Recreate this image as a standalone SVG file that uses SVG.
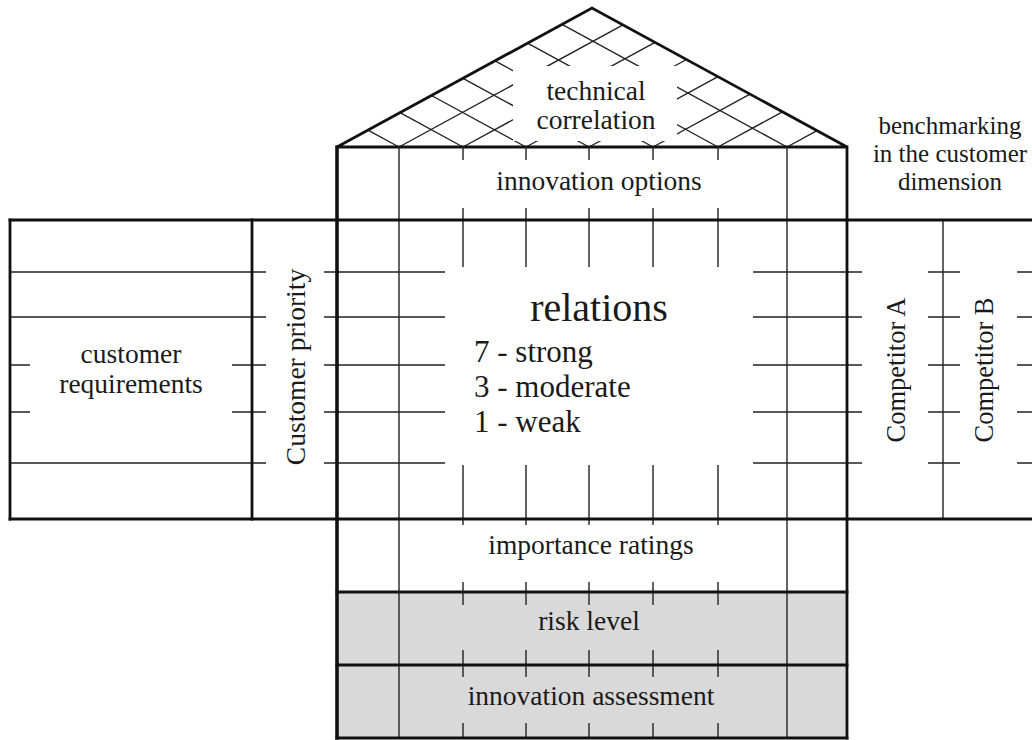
<svg xmlns="http://www.w3.org/2000/svg" width="1032" height="740" viewBox="0 0 1032 740">
<style>
.thick{stroke:#111;stroke-width:2.8;fill:none;stroke-linecap:square}
.thin{stroke:#222;stroke-width:1.4;fill:none}
.t{font-family:'Liberation Serif','Tinos','DejaVu Serif',serif;fill:#1a1a1a;font-size:27.5px;text-anchor:middle}
.gray{fill:#d9d9d9}
</style>
<rect width="1032" height="740" fill="#fff"/>
<g id="roof">
  <g class="thin">
    <line x1="399" y1="147" x2="623" y2="24.9"/>
    <line x1="463" y1="147" x2="655" y2="42.3"/>
    <line x1="526" y1="147" x2="686.5" y2="59.5"/>
    <line x1="589" y1="147" x2="718" y2="76.7"/>
    <line x1="653" y1="147" x2="750" y2="94.1"/>
    <line x1="718" y1="147" x2="782.5" y2="111.8"/>
    <line x1="787" y1="147" x2="817" y2="130.6"/>
    <line x1="399" y1="147" x2="368" y2="130.1"/>
    <line x1="463" y1="147" x2="400" y2="112.7"/>
    <line x1="526" y1="147" x2="431.5" y2="95.5"/>
    <line x1="589" y1="147" x2="463" y2="78.3"/>
    <line x1="653" y1="147" x2="495" y2="60.9"/>
    <line x1="718" y1="147" x2="527.5" y2="43.2"/>
    <line x1="787" y1="147" x2="562" y2="24.4"/>
  </g>
  <rect x="513" y="66" width="164" height="75" fill="#fff"/>
  <polygon class="thick" points="337,147 592,8 847,147"/>
  <text class="t" x="596" y="100">technical</text>
  <text class="t" x="596" y="129">correlation</text>
</g>
<g id="gray-fill">
  <rect class="gray" x="337" y="592" width="510" height="146"/>
</g>
<g id="grid">
  <g class="thin">
    <line x1="399" y1="147" x2="399" y2="738"/>
    <line x1="787" y1="147" x2="787" y2="738"/>
    <path d="M463 147V160M463 208V267M463 465V525M463 582V605M463 650V677M463 723V738
             M526 147V160M526 208V267M526 465V525M526 582V605M526 650V677M526 723V738
             M589 147V160M589 208V267M589 465V525M589 582V605M589 650V677M589 723V738
             M653 147V160M653 208V267M653 465V525M653 582V605M653 650V677M653 723V738
             M718 147V160M718 208V267M718 465V525M718 582V605M718 650V677M718 723V738"/>
    <path d="M10 272H266M10 317H266M10 463H266M10 365H30M232 365H266M10 412H30M232 412H266"/>
    <path d="M324 272H445M324 317H445M324 365H445M324 412H445M324 463H445"/>
    <path d="M753 272H862M753 317H862M753 365H862M753 412H862M753 463H862"/>
    <path d="M928 272H960M928 317H960M928 365H960M928 412H960M928 463H960"/>
    <path d="M1017 272H1032M1017 317H1032M1017 365H1032M1017 412H1032M1017 463H1032"/>
    <line x1="943" y1="220" x2="943" y2="519"/>
  </g>
  <g class="thick">
    <line x1="10" y1="220" x2="1032" y2="220"/>
    <line x1="10" y1="519" x2="1032" y2="519"/>
    <line x1="10" y1="220" x2="10" y2="519"/>
    <line x1="252" y1="220" x2="252" y2="519"/>
    <line x1="337" y1="147" x2="337" y2="738" style="stroke-width:3.6"/>
    <line x1="847" y1="147" x2="847" y2="738"/>
    <line x1="337" y1="592" x2="847" y2="592"/>
    <line x1="337" y1="665" x2="847" y2="665"/>
    <line x1="337" y1="738" x2="847" y2="738"/>
  </g>
</g>
<g id="innovation-options"><text class="t" x="599" y="190">innovation options</text></g>
<g id="customer-requirements">
  <text class="t" x="131" y="363">customer</text>
  <text class="t" x="131" y="393">requirements</text>
</g>
<g id="customer-priority"><text class="t" transform="translate(305,367) rotate(-90)">Customer priority</text></g>
<g id="relations">
  <text class="t" x="599" y="321" style="font-size:40px">relations</text>
  <text class="t" x="474" y="362" style="font-size:31px;text-anchor:start">7 - strong</text>
  <text class="t" x="474" y="397" style="font-size:31px;text-anchor:start">3 - moderate</text>
  <text class="t" x="474" y="432" style="font-size:31px;text-anchor:start">1 - weak</text>
</g>
<g id="benchmarking">
  <text class="t" x="950" y="134" style="font-size:25px">benchmarking</text>
  <text class="t" x="950" y="162" style="font-size:25px">in the customer</text>
  <text class="t" x="950" y="190" style="font-size:25px">dimension</text>
</g>
<g id="competitor-a"><text class="t" transform="translate(905,370) rotate(-90)" style="font-size:26.5px">Competitor A</text></g>
<g id="competitor-b"><text class="t" transform="translate(993,370) rotate(-90)" style="font-size:26.5px">Competitor B</text></g>
<g id="importance-ratings"><text class="t" x="591" y="554">importance ratings</text></g>
<g id="risk-level"><text class="t" x="589" y="630">risk level</text></g>
<g id="innovation-assessment"><text class="t" x="591" y="705">innovation assessment</text></g>
</svg>
